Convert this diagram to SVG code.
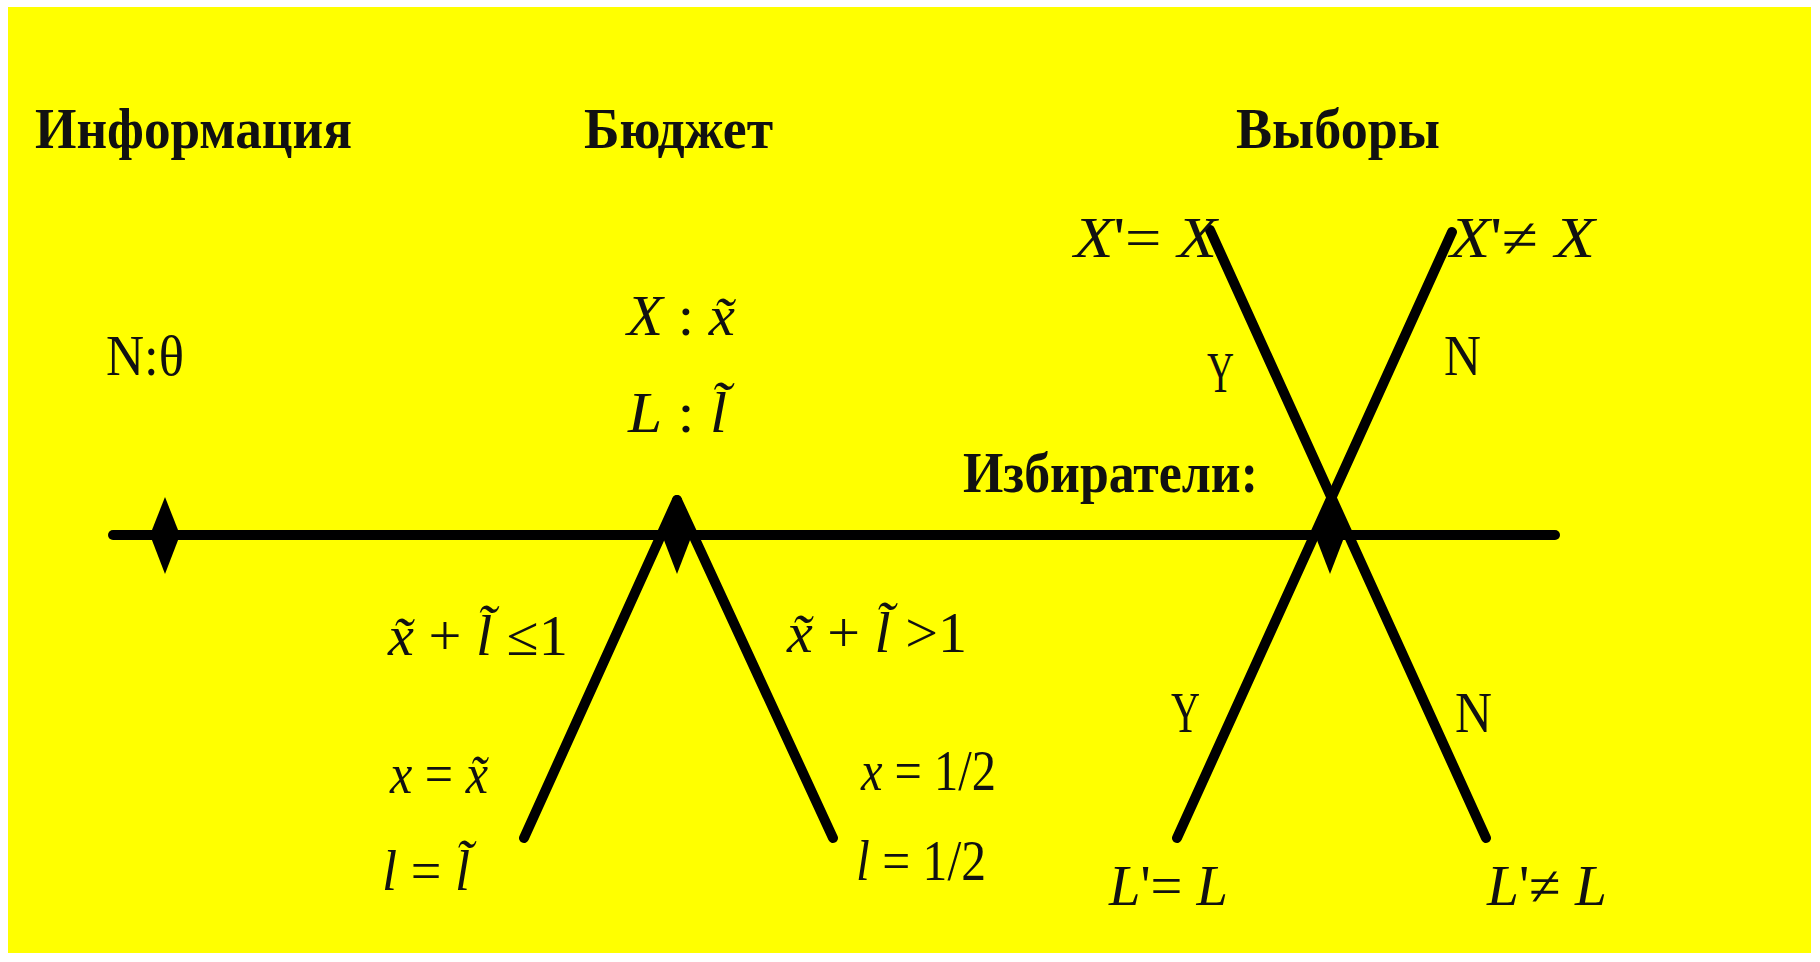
<svg xmlns="http://www.w3.org/2000/svg" width="1820" height="962" viewBox="0 0 1820 962">
<style>
.t{font-family:"Liberation Serif","Times New Roman","DejaVu Serif",serif;fill:#111;font-size:58px}
.b{font-weight:bold}
.m{font-size:56px}
.i{font-style:italic}
.edge{stroke:#000;stroke-width:10;fill:none;stroke-linecap:round}
.dia{fill:#000}
</style>
<rect x="0" y="0" width="1820" height="962" fill="#ffffff"/>
<rect x="8" y="7" width="1803" height="946" fill="#ffff00"/>

<g id="headers">
<text class="t b" x="35" y="148" textLength="317" lengthAdjust="spacingAndGlyphs">Информация</text>
<text class="t b" x="584" y="148" textLength="189" lengthAdjust="spacingAndGlyphs">Бюджет</text>
<text class="t b" x="1236" y="148" textLength="204" lengthAdjust="spacingAndGlyphs">Выборы</text>
</g>

<g id="connectors">
<line class="edge" x1="113" y1="535" x2="1555" y2="535"/>
<line class="edge" x1="677" y1="500" x2="524" y2="838"/>
<line class="edge" x1="677" y1="500" x2="833" y2="838"/>
<line class="edge" x1="1210" y1="230" x2="1486" y2="838"/>
<line class="edge" x1="1452" y1="232" x2="1177" y2="838"/>
</g>

<g id="node-nature">
<polygon class="dia" points="165,497 180,535 165,574 150,535"/>
<text class="t" x="106" y="375" textLength="78" lengthAdjust="spacingAndGlyphs">N:θ</text>
</g>

<g id="node-budget">
<polygon class="dia" points="677,497 692,535 677,574 662,535"/>
<text class="t m" x="627" y="335" textLength="108" lengthAdjust="spacingAndGlyphs"><tspan class="i">X</tspan> : <tspan class="i">x&#x303;</tspan></text>
<text class="t m" x="628" y="432" textLength="99" lengthAdjust="spacingAndGlyphs"><tspan class="i">L</tspan> : <tspan class="i">l&#x303;</tspan></text>
</g>

<g id="node-voters">
<polygon class="dia" points="1330,497 1345,535 1330,574 1315,535"/>
<text class="t b" x="963" y="492" textLength="295" lengthAdjust="spacingAndGlyphs">Избиратели:</text>
</g>

<g id="edge-labels">
<text class="t m" x="388" y="655" textLength="180" lengthAdjust="spacingAndGlyphs"><tspan class="i">x&#x303;</tspan> + <tspan class="i">l&#x303;</tspan>  ≤1</text>
<text class="t m" x="787" y="652" textLength="180" lengthAdjust="spacingAndGlyphs"><tspan class="i">x&#x303;</tspan> + <tspan class="i">l&#x303;</tspan>  &gt;1</text>
<text class="t" x="1207" y="392" font-size="60" textLength="27" lengthAdjust="spacingAndGlyphs">Y</text>
<text class="t" x="1444" y="375" font-size="60" textLength="37" lengthAdjust="spacingAndGlyphs">N</text>
<text class="t" x="1171" y="732" font-size="60" textLength="29" lengthAdjust="spacingAndGlyphs">Y</text>
<text class="t" x="1455" y="732" font-size="60" textLength="37" lengthAdjust="spacingAndGlyphs">N</text>
</g>

<g id="leaf-accept">
<text class="t m" x="390" y="793" textLength="98" lengthAdjust="spacingAndGlyphs"><tspan class="i">x</tspan> = <tspan class="i">x&#x303;</tspan></text>
<text class="t m" x="382" y="890" textLength="88" lengthAdjust="spacingAndGlyphs"><tspan class="i">l</tspan> = <tspan class="i">l&#x303;</tspan></text>
</g>

<g id="leaf-reject">
<text class="t m" x="861" y="790" textLength="135" lengthAdjust="spacingAndGlyphs"><tspan class="i">x</tspan> = 1/2</text>
<text class="t m" x="856" y="880" textLength="130" lengthAdjust="spacingAndGlyphs"><tspan class="i">l</tspan> = 1/2</text>
</g>

<g id="leaf-x-keep">
<text class="t m" x="1074" y="257" textLength="143" lengthAdjust="spacingAndGlyphs"><tspan class="i">X</tspan>'= <tspan class="i">X</tspan></text>
</g>
<g id="leaf-x-change">
<text class="t m" x="1450" y="257" textLength="145" lengthAdjust="spacingAndGlyphs"><tspan class="i">X</tspan>'≠ <tspan class="i">X</tspan></text>
</g>
<g id="leaf-l-keep">
<text class="t m" x="1109" y="905" textLength="119" lengthAdjust="spacingAndGlyphs"><tspan class="i">L</tspan>'= <tspan class="i">L</tspan></text>
</g>
<g id="leaf-l-change">
<text class="t m" x="1487" y="905" textLength="120" lengthAdjust="spacingAndGlyphs"><tspan class="i">L</tspan>'≠ <tspan class="i">L</tspan></text>
</g>
</svg>
